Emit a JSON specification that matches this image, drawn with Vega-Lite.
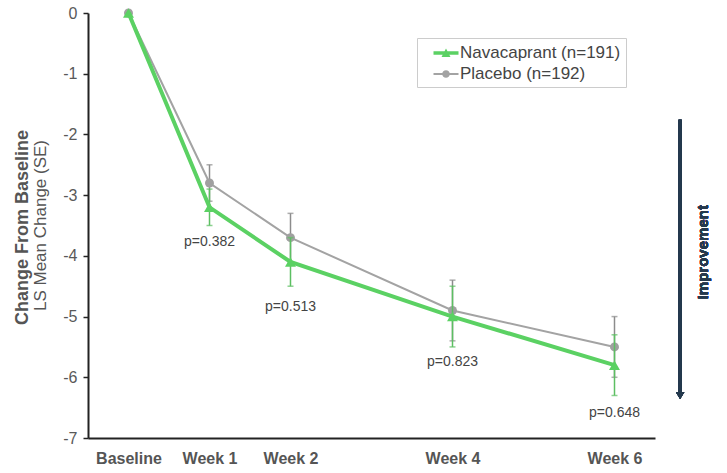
{
  "$schema": "https://vega.github.io/schema/vega-lite/v6.json",
  "width": 567,
  "height": 425,
  "autosize": "none",
  "padding": {"left": 88, "top": 13, "right": 72, "bottom": 35},
  "background": "white",
  "config": {
    "font": "Liberation Sans",
    "view": {"stroke": null},
    "axis": {"grid": false}
  },
  "datasets": {
    "series": [
      {"week": 0, "group": "Navacaprant (n=191)", "mean": 0, "lo": 0, "hi": 0},
      {"week": 1, "group": "Navacaprant (n=191)", "mean": -3.2, "lo": -3.5, "hi": -2.9},
      {"week": 2, "group": "Navacaprant (n=191)", "mean": -4.1, "lo": -4.5, "hi": -3.7},
      {"week": 4, "group": "Navacaprant (n=191)", "mean": -5.0, "lo": -5.5, "hi": -4.5},
      {"week": 6, "group": "Navacaprant (n=191)", "mean": -5.8, "lo": -6.3, "hi": -5.3},
      {"week": 0, "group": "Placebo (n=192)", "mean": 0, "lo": 0, "hi": 0},
      {"week": 1, "group": "Placebo (n=192)", "mean": -2.8, "lo": -3.1, "hi": -2.5},
      {"week": 2, "group": "Placebo (n=192)", "mean": -3.7, "lo": -4.1, "hi": -3.3},
      {"week": 4, "group": "Placebo (n=192)", "mean": -4.9, "lo": -5.4, "hi": -4.4},
      {"week": 6, "group": "Placebo (n=192)", "mean": -5.5, "lo": -6.0, "hi": -5.0}
    ],
    "pvals": [
      {"week": 1, "y": -3.77, "label": "p=0.382"},
      {"week": 2, "y": -4.84, "label": "p=0.513"},
      {"week": 4, "y": -5.75, "label": "p=0.823"},
      {"week": 6, "y": -6.59, "label": "p=0.648"}
    ]
  },
  "data": {"name": "series"},
  "resolve": {"axis": {"y": "independent"}},
  "layer": [
    {
      "mark": {"type": "point", "filled": true, "size": 0, "opacity": 1},
      "encoding": {
        "x": {"field": "week", "type": "quantitative",
              "scale": {"domain": [-0.5, 6.5], "nice": false, "zero": false},
              "axis": {"title": null, "values": [0, 1, 2, 4, 6],
                       "labelExpr": "datum.value == 0 ? 'Baseline' : 'Week ' + datum.value",
                       "ticks": false, "tickSize": 0, "labelPadding": 12,
                       "labelFontSize": 16, "labelFontWeight": "bold", "labelColor": "#555555",
                       "domainColor": "#222222", "domainWidth": 2, "labelFlush": false}},
        "y": {"field": "mean", "type": "quantitative",
              "scale": {"domain": [-7, 0], "nice": false, "zero": false},
              "axis": {"orient": "left", "title": "Change From Baseline", "labels": false, "ticks": false, "domain": false,
                       "titleFontSize": 18, "titleFontWeight": "bold", "titleColor": "#555555",
                       "titleX": -66, "titleY": 214, "titleAlign": "center", "titleBaseline": "middle", "titleAngle": 270}},
        "color": {"field": "group", "type": "nominal",
                  "scale": {"domain": ["Navacaprant (n=191)", "Placebo (n=192)"], "range": ["#5bd163", "#a3a3a3"]},
                  "legend": {"title": null, "orient": "none", "legendX": 329, "legendY": 25,
                             "padding": 5, "symbolOffset": 14, "labelOffset": 4, "rowPadding": 3,
                             "symbolSize": 400, "symbolStrokeWidth": 0, "symbolOpacity": 1, "labelLimit": 400,
                             "labelFontSize": 17, "labelColor": "#444444",
                             "strokeColor": "#cccccc", "fillColor": "white"}},
        "shape": {"field": "group", "type": "nominal",
                  "scale": {"domain": ["Navacaprant (n=191)", "Placebo (n=192)"],
                            "range": ["M-1.25,-0.17H1.25V0.17H-1.25Z M-0.45,0.4L0,-0.45L0.45,0.4Z",
                                      "M-1.25,-0.1H1.25V0.1H-1.25Z M-0.38,0A0.38,0.38,0,1,1,0.38,0A0.38,0.38,0,1,1,-0.38,0Z"]}}
      }
    },
    {
      "transform": [{"filter": "datum.group == 'Placebo (n=192)' && datum.week > 0"}],
      "mark": {"type": "errorbar", "ticks": {"size": 6, "thickness": 1.5}, "rule": {"strokeWidth": 1.5}},
      "encoding": {
        "x": {"field": "week", "type": "quantitative"},
        "y": {"field": "lo", "type": "quantitative", "axis": null},
        "y2": {"field": "hi"},
        "color": {"value": "#8c8c8c"}
      }
    },
    {
      "transform": [{"filter": "datum.group == 'Placebo (n=192)'"}],
      "mark": {"type": "line", "color": "#a3a3a3", "strokeWidth": 2},
      "encoding": {
        "x": {"field": "week", "type": "quantitative"},
        "y": {"field": "mean", "type": "quantitative",
              "axis": {"orient": "left", "title": "LS Mean Change (SE)", "values": [0, -1, -2, -3, -4, -5, -6, -7],
                       "labelExpr": "'' + datum.value", "labelFontSize": 16, "labelColor": "#595959",
                       "labelPadding": 6, "ticks": true, "tickSize": 5, "tickColor": "#222222", "tickWidth": 1.5,
                       "domainColor": "#222222", "domainWidth": 2,
                       "titleFontSize": 17, "titleFontWeight": "normal", "titleColor": "#555555",
                       "titleX": -48, "titleY": 212, "titleAlign": "center", "titleBaseline": "middle", "titleAngle": 270}}
      }
    },
    {
      "transform": [{"filter": "datum.group == 'Placebo (n=192)'"}],
      "mark": {"type": "point", "filled": true, "shape": "circle", "size": 80, "color": "#a0a0a0", "opacity": 1},
      "encoding": {
        "x": {"field": "week", "type": "quantitative"},
        "y": {"field": "mean", "type": "quantitative", "axis": null}
      }
    },
    {
      "transform": [{"filter": "datum.group == 'Navacaprant (n=191)' && datum.week > 0"}],
      "mark": {"type": "errorbar", "ticks": {"size": 6, "thickness": 1.5}, "rule": {"strokeWidth": 1.5}},
      "encoding": {
        "x": {"field": "week", "type": "quantitative"},
        "y": {"field": "lo", "type": "quantitative", "axis": null},
        "y2": {"field": "hi"},
        "color": {"value": "#5cbf62"}
      }
    },
    {
      "transform": [{"filter": "datum.group == 'Navacaprant (n=191)'"}],
      "mark": {"type": "line", "color": "#5bd163", "strokeWidth": 4},
      "encoding": {
        "x": {"field": "week", "type": "quantitative"},
        "y": {"field": "mean", "type": "quantitative", "axis": null}
      }
    },
    {
      "transform": [{"filter": "datum.group == 'Navacaprant (n=191)'"}],
      "mark": {"type": "point", "filled": true, "shape": "triangle-up", "size": 120, "color": "#5bd163", "opacity": 1},
      "encoding": {
        "x": {"field": "week", "type": "quantitative"},
        "y": {"field": "mean", "type": "quantitative", "axis": null}
      }
    },
    {
      "data": {"name": "pvals"},
      "mark": {"type": "text", "fontSize": 14, "color": "#444444", "baseline": "middle", "align": "center"},
      "encoding": {
        "x": {"field": "week", "type": "quantitative"},
        "y": {"field": "y", "type": "quantitative", "axis": null},
        "text": {"field": "label"}
      }
    },
    {
      "mark": {"type": "rule", "color": "#24394d", "strokeWidth": 3},
      "encoding": {
        "x": {"datum": 6.81, "type": "quantitative"},
        "y": {"datum": -1.76, "type": "quantitative", "axis": null},
        "y2": {"datum": -6.3}
      }
    },
    {
      "mark": {"type": "point", "shape": "triangle-down", "filled": true, "size": 70, "color": "#24394d", "opacity": 1},
      "encoding": {
        "x": {"datum": 6.81, "type": "quantitative"},
        "y": {"datum": -6.3, "type": "quantitative", "axis": null}
      }
    },
    {
      "mark": {"type": "text", "text": "Improvement", "angle": 270, "fontSize": 15, "fontWeight": "bold", "color": "#24394d", "align": "center", "baseline": "middle"},
      "encoding": {
        "x": {"datum": 7.09, "type": "quantitative"},
        "y": {"datum": -3.94, "type": "quantitative", "axis": null}
      }
    }
  ]
}
